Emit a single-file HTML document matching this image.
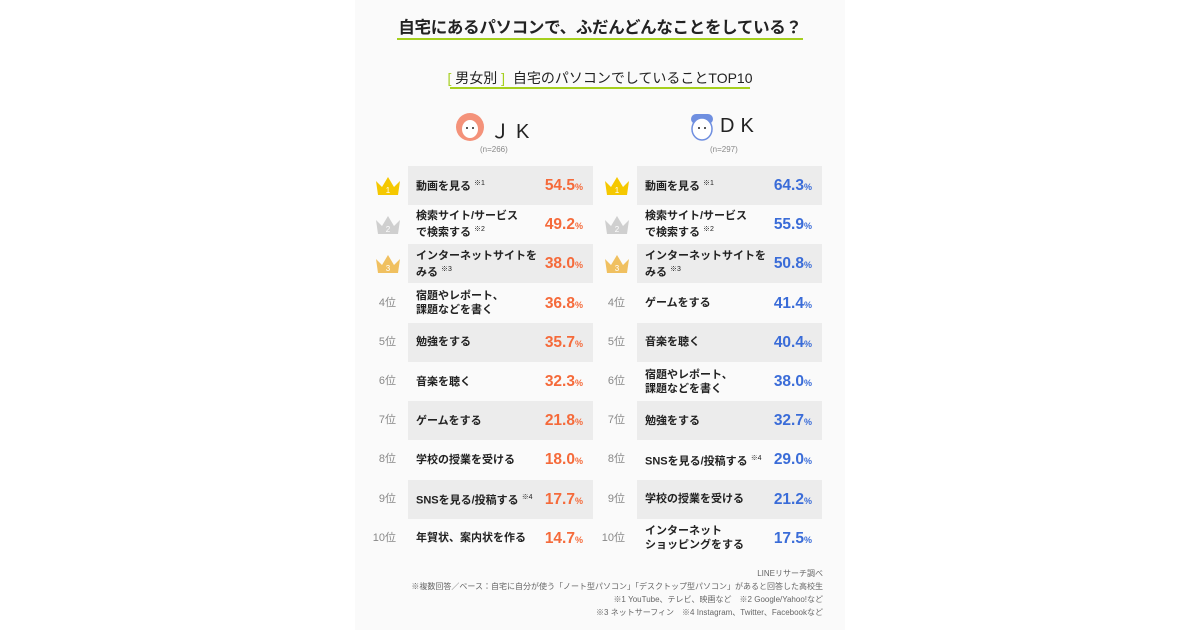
<!DOCTYPE html>
<html><head><meta charset="utf-8">
<style>
body{margin:0;width:1200px;height:630px;background:#fff;font-family:"Liberation Sans","Noto Sans CJK JP",sans-serif;position:relative;overflow:hidden}
#panel{position:absolute;left:355px;top:0;width:490px;height:630px;background:#fafafa}
.abs{position:absolute}
.title{left:0;width:490px;top:14px;text-align:center;font-size:16.5px;font-weight:bold;color:#222;letter-spacing:-0.3px}
.rule{background:#a5cf1e;height:2px}
.sub{left:0;width:490px;top:68px;text-align:center;font-size:14px;color:#222}
.row{position:absolute;height:39px;width:185px}
.lbl{position:absolute;left:8px;top:0;height:39px;display:flex;align-items:center;font-size:11px;font-weight:bold;color:#222;line-height:14px}
.lbl sup{font-size:7px;font-weight:normal;margin-left:3px}
.val{position:absolute;right:10px;top:0;line-height:39px;font-size:15.5px;font-weight:bold}
.val small{font-size:9px}
.rank{position:absolute;width:40px;text-align:right;font-size:11px;color:#888;line-height:39px}
.note{right:22px;text-align:right;font-size:8px;color:#666;line-height:13px;width:480px}
</style></head><body>
<div id="panel">
  <div class="abs title">自宅にあるパソコンで、ふだんどんなことをしている？</div>
  <div class="abs rule" style="left:42px;top:38px;width:406px"></div>
  <div class="abs sub"><span style="color:#a5cf1e">[</span> 男女別 <span style="color:#a5cf1e">]</span>&nbsp; 自宅のパソコンでしていることTOP10</div>
  <div class="abs rule" style="left:95px;top:87px;width:300px;height:1.5px"></div>
  <svg class="abs" style="left:100px;top:112px" width="30" height="30"><circle cx="15" cy="15" r="14" fill="#f4927a"/><ellipse cx="15" cy="17" rx="8" ry="9" fill="#fff"/><circle cx="12" cy="16" r="1" fill="#222"/><circle cx="18" cy="16" r="1" fill="#222"/></svg>
  <div class="abs" style="left:135px;top:115px;font-size:20px;color:#222;letter-spacing:6px">ＪK</div>
  <div class="abs" style="left:125px;top:145px;font-size:8px;color:#888">(n=266)</div>
  <svg class="abs" style="left:332px;top:112px" width="30" height="30"><rect x="4" y="2" width="22" height="10" rx="5" fill="#6f8fe0"/><ellipse cx="15" cy="17" rx="10" ry="11" fill="#fff" stroke="#6f8fe0" stroke-width="1.5"/><circle cx="12" cy="16" r="1" fill="#222"/><circle cx="18" cy="16" r="1" fill="#222"/></svg>
  <div class="abs" style="left:365px;top:115px;font-size:20px;color:#222;letter-spacing:6px">DK</div>
  <div class="abs" style="left:355px;top:145px;font-size:8px;color:#888">(n=297)</div>
  <div id="rows"></div>
  <div class="abs note" style="top:567px">LINEリサーチ調べ<br>※複数回答／ベース：自宅に自分が使う「ノート型パソコン」「デスクトップ型パソコン」があると回答した高校生<br>※1 YouTube、テレビ、映画など　※2 Google/Yahoo!など<br>※3 ネットサーフィン　※4 Instagram、Twitter、Facebookなど</div>
</div>
<script>
const jkLabels=["動画を見る|※1","検索サイト/サービス<br>で検索する|※2","インターネットサイトを<br>みる|※3","宿題やレポート、<br>課題などを書く|","勉強をする|","音楽を聴く|","ゲームをする|","学校の授業を受ける|","SNSを見る/投稿する|※4","年賀状、案内状を作る|"];
const jkValues=[54.5,49.2,38.0,36.8,35.7,32.3,21.8,18.0,17.7,14.7];
const dkLabels=["動画を見る|※1","検索サイト/サービス<br>で検索する|※2","インターネットサイトを<br>みる|※3","ゲームをする|","音楽を聴く|","宿題やレポート、<br>課題などを書く|","勉強をする|","SNSを見る/投稿する|※4","学校の授業を受ける|","インターネット<br>ショッピングをする|"];
const dkValues=[64.3,55.9,50.8,41.4,40.4,38.0,32.7,29.0,21.2,17.5];
const crownColors=["#f5c800","#cfcfcf","#f0c060"];
const rowY=i=>166+i*39.2;
const host=document.getElementById('rows');
function draw(labels,values,boxX,color,side){
  labels.forEach((l,i)=>{
    const y=rowY(i);
    const r=document.createElement('div');
    r.className='row';
    
    
    r.style.left=boxX+'px';r.style.top=y+'px';
    if(i%2===0)r.style.background='#ececec';
    const [t,s]=l.split('|');
    r.innerHTML='<div class="lbl"><span>'+t+(s?'<sup>'+s+'</sup>':'')+'</span></div><div class="val" style="color:'+color+'">'+values[i].toFixed(1)+'<small>%</small></div>';
    host.appendChild(r);
    if(i<3){
      const c=document.createElementNS('http://www.w3.org/2000/svg','svg');
      
      
      c.setAttribute('width','28');c.setAttribute('height','22');
      c.style.position='absolute';c.style.left=(boxX-34)+'px';c.style.top=(y+9)+'px';
      c.innerHTML='<polygon points="2,6 8,12 14,2 20,12 26,6 24,20 4,20" fill="'+crownColors[i]+'"/><text x="14" y="18" font-size="8" fill="#fff" text-anchor="middle">'+(i+1)+'</text>';
      host.appendChild(c);
    }else{
      const k=document.createElement('div');
      k.className='rank';
      
      
      k.style.left=(boxX-52)+'px';k.style.top=y+'px';
      k.textContent=(i+1)+'位';
      host.appendChild(k);
    }
  });
}
draw(jkLabels,jkValues,53,'#f56a3a','jk');
draw(dkLabels,dkValues,282,'#3a6cd8','dk');
</script>
</body></html>
